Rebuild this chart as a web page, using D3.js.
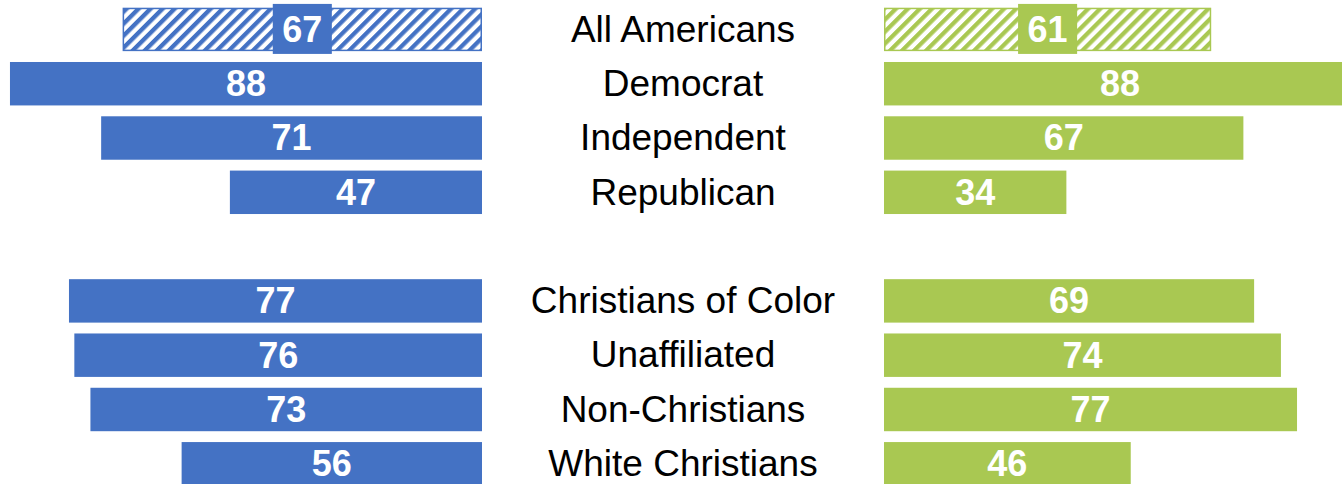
<!DOCTYPE html>
<html>
<head>
<meta charset="utf-8">
<script src="https://cdn.jsdelivr.net/npm/d3@7"></script>
<style>
  html, body { margin: 0; padding: 0; background: #fff; }
  svg { display: block; }
</style>
</head>
<body>
<svg id="chart" width="1342" height="484"></svg>
<script>
// ---- data ----
const categories = ["All Americans", "Democrat", "Independent", "Republican", "",
                    "Christians of Color", "Unaffiliated", "Non-Christians", "White Christians"];
const leftValues  = [67, 88, 71, 47, null, 77, 76, 73, 56];
const rightValues = [61, 88, 67, 34, null, 69, 74, 77, 46];
const hatchedRows = ["All Americans"];

const blue = "#4472C4";
const green = "#A9C852";

const svg = d3.select("#chart");

const y = d3.scaleBand()
  .domain(categories.map((c, i) => i))
  .range([7.7, 485.5])
  .paddingInner(0.2)
  .paddingOuter(0);

const xL = d3.scaleLinear().domain([0, 100]).range([482, 482 - 536.4]);
const xR = d3.scaleLinear().domain([0, 100]).range([884, 884 + 536.4]);

// hatch patterns
const defs = svg.append("defs");
function hatch(id, color) {
  const p = defs.append("pattern")
    .attr("id", id)
    .attr("patternUnits", "userSpaceOnUse")
    .attr("width", 8.5).attr("height", 8.5)
    .attr("patternTransform", "rotate(45)");
  p.append("rect").attr("width", 8.5).attr("height", 8.5).attr("fill", "#fff");
  p.append("rect").attr("x", 0).attr("y", 0).attr("width", 4.3).attr("height", 8.5).attr("fill", color);
}
hatch("hatchBlue", blue);
hatch("hatchGreen", green);

const rows = categories.map((c, i) => ({ cat: c, i, l: leftValues[i], r: rightValues[i] }))
  .filter(d => d.l != null);

function drawSide(g, x, key, color, patId) {
  const sel = g.selectAll("g.row").data(rows).join("g").attr("class", "row");
  sel.each(function(d) {
    const gg = d3.select(this);
    const v = d[key];
    const x0 = x(0), x1 = x(v);
    const bx = Math.min(x0, x1), bw = Math.abs(x1 - x0);
    const by = y(d.i), bh = y.bandwidth();
    const hatched = hatchedRows.includes(d.cat);
    if (hatched) {
      gg.append("rect")
        .attr("x", bx + 0.75).attr("y", by + 0.75)
        .attr("width", bw - 1.5).attr("height", bh - 1.5)
        .attr("fill", `url(#${patId})`)
        .attr("stroke", color).attr("stroke-width", 1.5);
    } else {
      gg.append("rect")
        .attr("x", bx).attr("y", by)
        .attr("width", bw).attr("height", bh)
        .attr("fill", color);
    }
    const cx = bx + bw / 2;
    const cy = by + bh / 2;
    const t = gg.append("text")
      .attr("x", cx).attr("y", cy + 0.358 * 36 - 0.5)
      .attr("text-anchor", "middle")
      .attr("font-family", "Arial, 'Liberation Sans', sans-serif")
      .attr("font-weight", "bold")
      .attr("font-size", 36)
      .attr("fill", "#fff")
      .text(v);
    if (hatched) {
      const tw = t.node().getComputedTextLength();
      gg.insert("rect", "text")
        .attr("x", cx - tw / 2 - 9.5).attr("y", cy - 25.5)
        .attr("width", tw + 19).attr("height", 50)
        .attr("fill", color);
    }
  });
}

drawSide(svg.append("g"), xL, "l", blue, "hatchBlue");
drawSide(svg.append("g"), xR, "r", green, "hatchGreen");

// category labels
svg.append("g").selectAll("text")
  .data(rows)
  .join("text")
  .attr("x", 683)
  .attr("y", d => y(d.i) + y.bandwidth() / 2 + 0.358 * 37 - 1)
  .attr("text-anchor", "middle")
  .attr("font-family", "Arial, 'Liberation Sans', sans-serif")
  .attr("font-size", 37)
  .attr("fill", "#000")
  .text(d => d.cat);
</script>
</body>
</html>
